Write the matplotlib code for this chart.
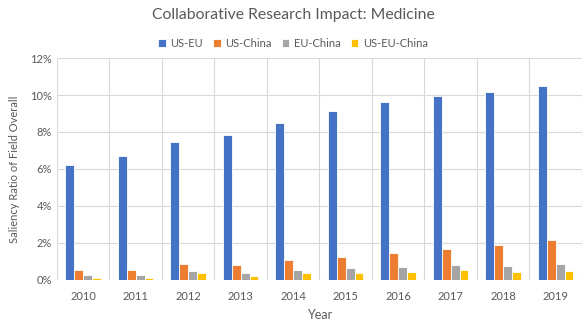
import matplotlib.pyplot as plt
import numpy as np
from matplotlib.ticker import PercentFormatter, FixedLocator

plt.rcParams['font.family'] = ['Lato', 'DejaVu Sans']

years = ['2010', '2011', '2012', '2013', '2014', '2015', '2016', '2017', '2018', '2019']
series = ['US-EU', 'US-China', 'EU-China', 'US-EU-China']
us_eu = [6.24, 6.72, 7.44, 7.84, 8.49, 9.14, 9.61, 9.94, 10.17, 10.51]
us_china = [0.51, 0.52, 0.85, 0.83, 1.08, 1.24, 1.44, 1.68, 1.86, 2.13]
eu_china = [0.24, 0.25, 0.47, 0.36, 0.52, 0.63, 0.69, 0.83, 0.76, 0.85]
us_eu_china = [0.12, 0.11, 0.36, 0.20, 0.35, 0.38, 0.43, 0.52, 0.43, 0.49]
colors = ['#4472C4', '#ED7D31', '#A5A5A5', '#FFC000']

fig = plt.figure(figsize=(5.86, 3.3), dpi=100)
ax = fig.add_axes([0.097, 0.152, 0.896, 0.672])

x = np.arange(len(years))
w = 0.17
for i, (name, vals) in enumerate(zip(series, [us_eu, us_china, eu_china, us_eu_china])):
    ax.bar(x + (i - 1.5) * w, vals, w, color=colors[i], edgecolor='white',
           linewidth=0.6, label=name, zorder=3)

ax.set_xlim(-0.5, 9.5)
ax.set_ylim(0, 12)
ax.set_yticks(np.arange(0, 13, 2))
ax.yaxis.set_major_formatter(PercentFormatter(decimals=0))
ax.set_xticks(x)
ax.set_xticklabels(years)
ax.xaxis.set_minor_locator(FixedLocator(np.arange(-0.5, 10, 1)))
ax.grid(axis='y', color='#D9D9D9', linewidth=0.8, zorder=0)
ax.grid(axis='x', which='minor', color='#D9D9D9', linewidth=0.8, zorder=0)
ax.tick_params(which='both', length=0, colors='#595959', labelsize=8)
ax.tick_params(axis='x', pad=8)
for s in ax.spines.values():
    s.set_visible(False)

ax.set_xlabel('Year', fontsize=9, color='#595959', labelpad=5)
ax.set_ylabel('Saliency Ratio of Field Overall', fontsize=8, color='#595959', labelpad=7)
fig.suptitle('Collaborative Research Impact: Medicine', y=0.975, fontsize=11.3, color='#595959')
fig.legend(loc='upper center', bbox_to_anchor=(0.5, 0.915), ncol=4, frameon=False,
           fontsize=8, handlelength=0.7, handleheight=0.7, handletextpad=0.4,
           columnspacing=0.9, labelcolor='#595959')

fig.savefig('out.png', dpi=100)
